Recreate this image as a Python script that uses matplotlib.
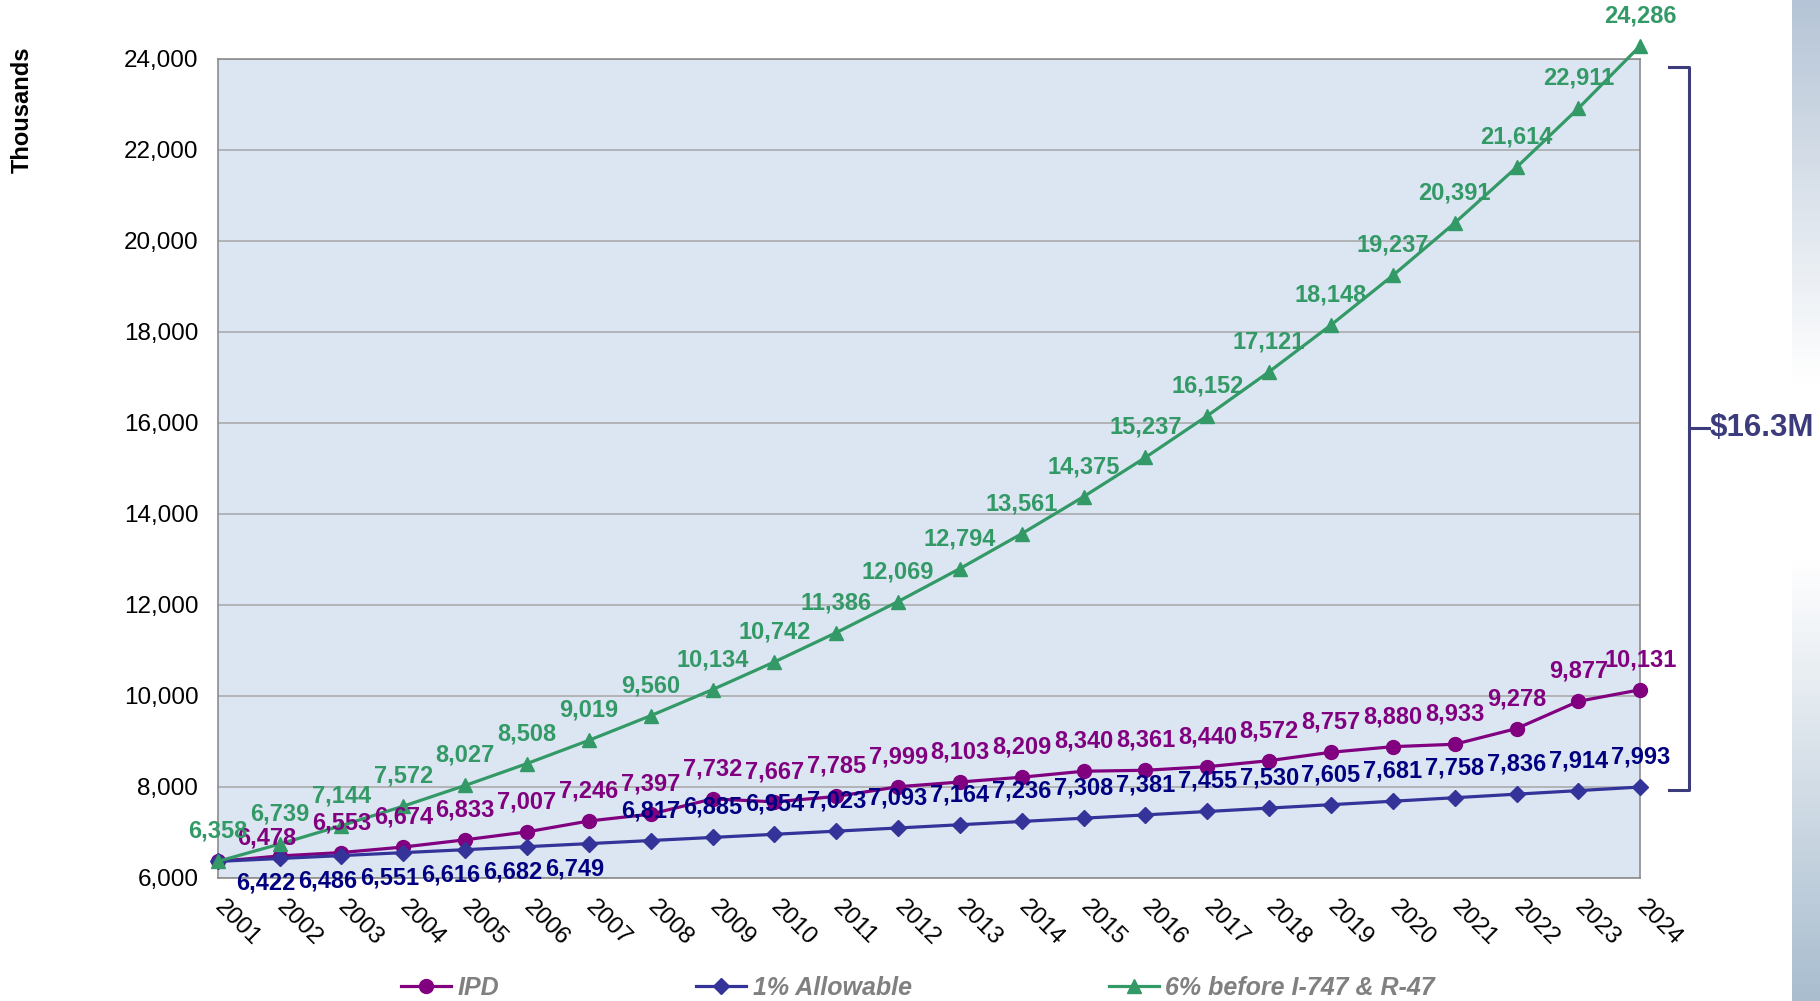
import matplotlib
matplotlib.use("Agg")
import matplotlib.pyplot as plt
import numpy as np
from matplotlib.lines import Line2D

plt.rcParams['font.family'] = ['Liberation Sans', 'DejaVu Sans']

years = list(range(2001, 2025))
ipd = [6358, 6478, 6553, 6674, 6833, 7007, 7246, 7397, 7732, 7667, 7785, 7999,
       8103, 8209, 8340, 8361, 8440, 8572, 8757, 8880, 8933, 9278, 9877, 10131]
allowable = [6358, 6422, 6486, 6551, 6616, 6682, 6749, 6817, 6885, 6954, 7023, 7093,
             7164, 7236, 7308, 7381, 7455, 7530, 7605, 7681, 7758, 7836, 7914, 7993]
six_pct = [6358, 6739, 7144, 7572, 8027, 8508, 9019, 9560, 10134, 10742, 11386, 12069,
           12794, 13561, 14375, 15237, 16152, 17121, 18148, 19237, 20391, 21614, 22911, 24286]
series_names = ["IPD", "1% Allowable", "6% before I-747 & R-47"]
y_ticks = [6000, 8000, 10000, 12000, 14000, 16000, 18000, 20000, 22000, 24000]

W, H = 1820, 1001
fig = plt.figure(figsize=(W / 100, H / 100), dpi=100)
fig.patch.set_facecolor('white')

# right-hand gradient strip
gax = fig.add_axes([1791.7 / W, 0, (W - 1791.7) / W, 1])
gax.axis('off')
top_c = np.array([0.71, 0.77, 0.84])
bot_c = np.array([0.66, 0.74, 0.81])
white = np.array([1.0, 1.0, 1.0])
ys = np.linspace(0, 1, 400)
grad = np.zeros((400, 1, 3))
for i, t in enumerate(ys):
    if t < 0.38:
        f = t / 0.38
        c = top_c + (white - top_c) * f
    elif t < 0.56:
        c = white
    else:
        f = (t - 0.56) / 0.44
        c = white + (bot_c - white) * f
    grad[i, 0] = c
gax.imshow(grad, aspect='auto', extent=[0, 1, 0, 1], origin='upper')

ax = fig.add_axes([217.7 / W, 123.3 / H, 1422.6 / W, 819 / H])
ax.set_facecolor('#dce6f2')
ax.set_xlim(2001, 2024)
ax.set_ylim(6000, 24000)
ax.set_yticks(y_ticks)
ax.set_yticklabels([f"{v:,}" for v in y_ticks], fontsize=17.5)
ax.set_xticks(years)
ax.set_xticklabels([str(y) for y in years], rotation=-45, ha='left', va='center',
                   rotation_mode='anchor', fontsize=17.5)
ax.tick_params(axis='both', length=0)
ax.tick_params(axis='y', pad=14)
ax.tick_params(axis='x', pad=19)
ax.grid(axis='y', color='#a6a6a6', linewidth=1.1)
ax.set_axisbelow(True)
for s in ax.spines.values():
    s.set_color('#8c8c8c')
    s.set_linewidth(1.2)

c_ipd, c_all, c_six = '#800080', '#333399', '#339966'
l_ipd, l_all, l_six = '#800080', '#000080', '#339966'

ax.plot(years, ipd, color=c_ipd, marker='o', markersize=10, linewidth=2.3,
        clip_on=False, zorder=3)
ax.plot(years, allowable, color=c_all, marker='D', markersize=8, linewidth=2.3,
        clip_on=False, zorder=3)
ax.plot(years, six_pct, color=c_six, marker='^', markersize=10.5, linewidth=2.3,
        clip_on=False, zorder=4)

px = 72 / 100.0  # points per pixel
up = 30 * px
kw = dict(textcoords='offset points', ha='center', va='center', fontsize=17,
          fontweight='bold', annotation_clip=False, zorder=6)

# first-year labels coincide for all three series; only the top one is visible
for i, (y, v) in enumerate(zip(years, allowable)):
    if i == 0:
        continue
    if 2002 <= y <= 2007:
        off = (-14 * px, -25 * px)
    else:
        off = (0, up)
    ax.annotate(f"{v:,}", (y, v), xytext=off, color=l_all, **kw)
for i, (y, v) in enumerate(zip(years, ipd)):
    if i == 0:
        continue
    off = (-13 * px, 18 * px) if y == 2002 else (0, up)
    ax.annotate(f"{v:,}", (y, v), xytext=off, color=l_ipd, **kw)
for i, (y, v) in enumerate(zip(years, six_pct)):
    ax.annotate(f"{v:,}", (y, v), xytext=(0, up), color=l_six, **kw)

# y-axis title
fig.text(22.7 / W, 1 - 110 / H, "Thousands", rotation=90, ha='center', va='center',
         fontsize=17, fontweight='bold', color='black')

# bracket showing the gap
bc = '#3c3c7c'
xb, xl, xr = 1689.3 / W, 1669.3 / W, 1709.3 / W
yt, yb, ym = 1 - 66.7 / H, 1 - 790 / H, 1 - 427.7 / H
fig.add_artist(Line2D([xl, xb, xb, xl], [yt, yt, yb, yb], color=bc, linewidth=2.2,
                      transform=fig.transFigure))
fig.add_artist(Line2D([xb, xr], [ym, ym], color=bc, linewidth=2.2,
                      transform=fig.transFigure))
gap = (six_pct[-1] - allowable[-1]) / 1000
fig.text(xr, ym, f"${gap:.1f}M", ha='left', va='center', fontsize=22.5,
         fontweight='bold', color=bc)

# legend
handles = [
    Line2D([], [], color=c_ipd, marker='o', markersize=10, linewidth=2.3),
    Line2D([], [], color=c_all, marker='D', markersize=8, linewidth=2.3),
    Line2D([], [], color=c_six, marker='^', markersize=10.5, linewidth=2.3),
]
leg = fig.legend(handles, series_names, loc='center', ncol=3,
                 bbox_to_anchor=(918 / W, 1 - 988 / H), frameon=False,
                 prop={'size': 18, 'weight': 'bold', 'style': 'italic'},
                 handlelength=2.0, handletextpad=0.25, columnspacing=7.9)
for t in leg.get_texts():
    t.set_color('#808080')

fig.savefig('out.png', dpi=100, facecolor='white')
